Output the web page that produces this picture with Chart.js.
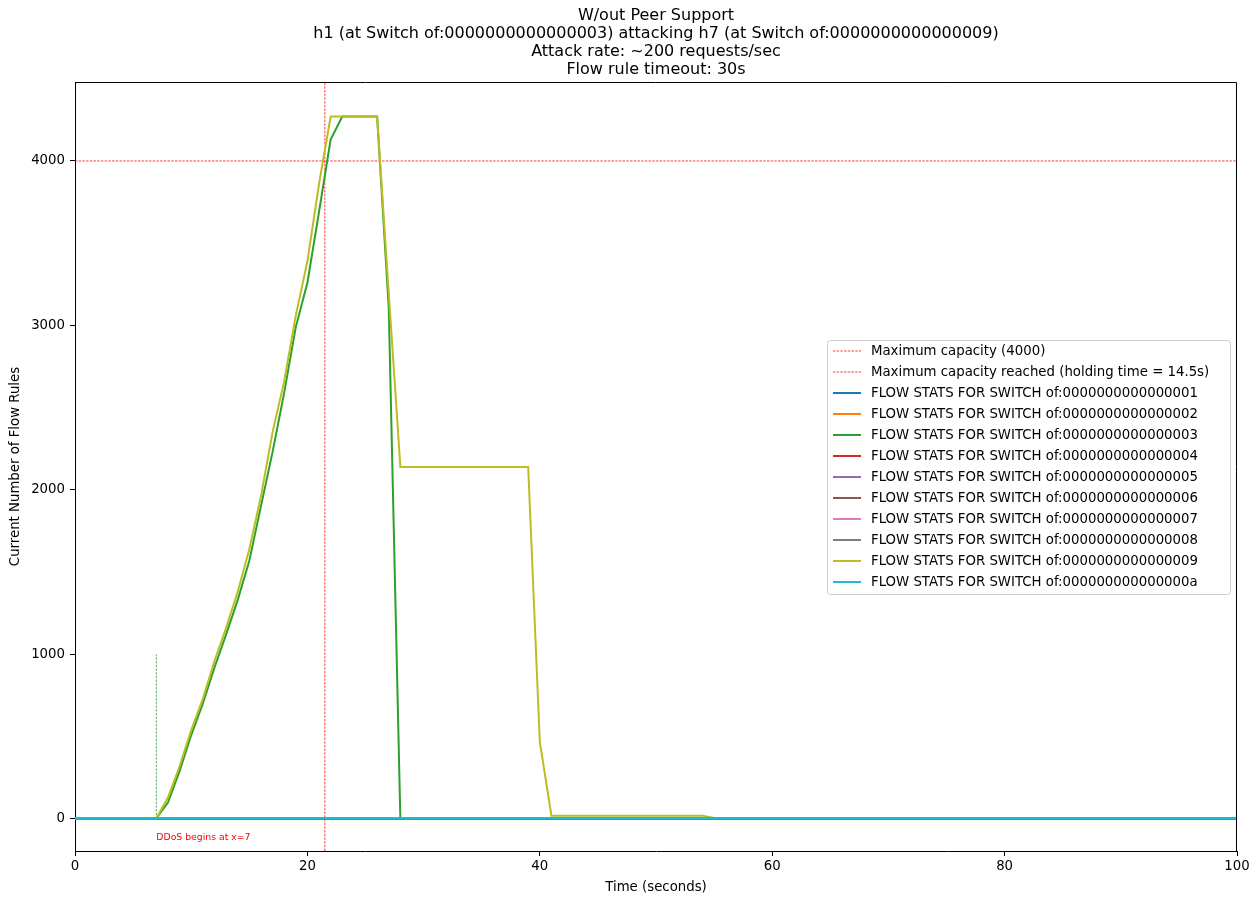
<!doctype html>
<html lang="en">
<head>
<meta charset="utf-8">
<title>W/out Peer Support</title>
<script src="https://cdn.jsdelivr.net/npm/chart.js"></script>
<style>
  body { margin: 0; background: #fff; }
</style>
</head>
<body>
<canvas id="flowChart" width="1260" height="905"></canvas>
<script>
const titleLines = [
  'W/out Peer Support',
  'h1 (at Switch of:0000000000000003) attacking h7 (at Switch of:0000000000000009)',
  'Attack rate: ~200 requests/sec',
  'Flow rule timeout: 30s'
];
const xTitle = 'Time (seconds)';
const yTitle = 'Current Number of Flow Rules';
const xTicks = [0, 20, 40, 60, 80, 100];
const yTicks = [0, 1000, 2000, 3000, 4000];

const capacity = 4000;
const capacityReachedAt = 21.5;
const ddosStart = 7;
const ddosMarkerTop = 1000;
const ddosLabel = 'DDoS begins at x=7';

const switchIds = [
  'of:0000000000000001', 'of:0000000000000002', 'of:0000000000000003',
  'of:0000000000000004', 'of:0000000000000005', 'of:0000000000000006',
  'of:0000000000000007', 'of:0000000000000008', 'of:0000000000000009',
  'of:000000000000000a'
];
const switchColors = [
  '#1f77b4', '#ff7f0e', '#2ca02c', '#d62728', '#9467bd',
  '#8c564b', '#e377c2', '#7f7f7f', '#bcbd22', '#17becf'
];

// time (s) and flow rule count, per switch
const s1Time = [0, 100];  const s1Rules = [3, 3];
const s2Time = [0, 100];  const s2Rules = [2, 2];
const s3Time = [0, 7, 8, 9, 10, 11, 12, 13, 14, 15, 16, 17, 18, 19, 20, 21, 22, 23, 26, 27, 28, 100];
const s3Rules = [4, 4, 100, 290, 510, 700, 920, 1120, 1330, 1570, 1900, 2230, 2590, 2990, 3260, 3690, 4130, 4270, 4270, 3110, 4, 4];
const s4Time = [0, 100];  const s4Rules = [5, 5];
const s5Time = [0, 100];  const s5Rules = [2, 2];
const s6Time = [0, 100];  const s6Rules = [3, 3];
const s7Time = [0, 100];  const s7Rules = [4, 4];
const s8Time = [0, 100];  const s8Rules = [2, 2];
const s9Time = [0, 7, 8, 9, 10, 11, 12, 13, 14, 15, 16, 17, 18, 19, 20, 21, 22, 26, 27, 28, 39, 40, 41, 54, 55, 100];
const s9Rules = [4, 4, 130, 320, 540, 730, 960, 1160, 1380, 1640, 1960, 2350, 2660, 3060, 3390, 3860, 4270, 4270, 3200, 2140, 2140, 470, 20, 20, 5, 5];
const saTime = [0, 100];  const saRules = [6, 6];

const switchTimes = [s1Time, s2Time, s3Time, s4Time, s5Time, s6Time, s7Time, s8Time, s9Time, saTime];
const switchRules = [s1Rules, s2Rules, s3Rules, s4Rules, s5Rules, s6Rules, s7Rules, s8Rules, s9Rules, saRules];

const FONT = 'DejaVu Sans';
const yMin = -195, yMax = 4480;

const toPoints = (xs, ys) => xs.map((x, i) => ({ x: x, y: ys[i] }));

const datasets = [
  {
    label: 'Maximum capacity (' + capacity + ')',
    data: [{ x: 0, y: capacity }, { x: 100, y: capacity }],
    borderColor: '#f01010', borderWidth: 0.8, borderDash: [2.5, 1.2],
    pointRadius: 0, order: 100
  },
  {
    label: 'Maximum capacity reached (holding time = 14.5s)',
    data: [{ x: capacityReachedAt, y: yMin }, { x: capacityReachedAt, y: yMax }],
    borderColor: '#f01010', borderWidth: 0.8, borderDash: [2.5, 1.2],
    pointRadius: 0, order: 99
  },
  {
    label: '',
    data: [{ x: ddosStart, y: 0 }, { x: ddosStart, y: ddosMarkerTop }],
    borderColor: '#2ca02c', borderWidth: 0.8, borderDash: [2.5, 1.2],
    pointRadius: 0, order: 98, hideInLegend: true
  }
];
switchIds.forEach((id, i) => {
  datasets.push({
    label: 'FLOW STATS FOR SWITCH ' + id,
    data: toPoints(switchTimes[i], switchRules[i]),
    borderColor: switchColors[i],
    borderWidth: 2,
    pointRadius: 0,
    tension: 0,
    order: 20 - i
  });
});

const extras = {
  id: 'extras',
  afterDatasetsDraw(chart) {
    const ctx = chart.ctx;
    const a = chart.chartArea;
    const xs = chart.scales.x, ys = chart.scales.y;
    ctx.save();

    // top and right spines
    ctx.strokeStyle = '#000';
    ctx.lineWidth = 1;
    ctx.beginPath();
    ctx.moveTo(a.left, a.top + 0.5);
    ctx.lineTo(a.right - 0.5, a.top + 0.5);
    ctx.lineTo(a.right - 0.5, a.bottom);
    ctx.stroke();

    // annotation
    ctx.fillStyle = '#ff0000';
    ctx.font = '9.3px "' + FONT + '"';
    ctx.textBaseline = 'middle';
    ctx.textAlign = 'left';
    ctx.fillText(ddosLabel, xs.getPixelForValue(ddosStart), ys.getPixelForValue(-116));

    // legend
    const bx = 827, by = 340, bw = 403, bh = 254;
    ctx.fillStyle = 'rgba(255,255,255,0.8)';
    ctx.strokeStyle = '#cccccc';
    ctx.beginPath();
    ctx.roundRect(bx + 0.5, by + 0.5, bw, bh, 3);
    ctx.fill();
    ctx.stroke();

    ctx.font = '13.3px "' + FONT + '"';
    let row = 0;
    chart.data.datasets.forEach(ds => {
      if (ds.hideInLegend) return;
      const y = 351 + row * 21;
      ctx.strokeStyle = ds.borderColor;
      ctx.lineWidth = ds.borderWidth;
      ctx.setLineDash(ds.borderDash || []);
      ctx.beginPath();
      ctx.moveTo(833, y);
      ctx.lineTo(861, y);
      ctx.stroke();
      ctx.setLineDash([]);
      ctx.fillStyle = '#000';
      ctx.fillText(ds.label, 871, y + 1);
      row++;
    });

    // titles
    ctx.fillStyle = '#000';
    ctx.textAlign = 'center';
    ctx.font = '16px "' + FONT + '"';
    const cx = (a.left + a.right) / 2;
    titleLines.forEach((t, i) => ctx.fillText(t, cx, 16 + i * 18));

    ctx.font = '13.3px "' + FONT + '"';
    ctx.fillText(xTitle, cx, 888);
    ctx.translate(16, (a.top + a.bottom) / 2);
    ctx.rotate(-Math.PI / 2);
    ctx.fillText(yTitle, 0, 0);
    ctx.restore();
  }
};

const tickFont = { family: FONT, size: 13.3 };

new Chart(document.getElementById('flowChart'), {
  type: 'line',
  data: { datasets: datasets },
  options: {
    responsive: false,
    animation: false,
    layout: { padding: { top: 82, right: 23, left: 0, bottom: 0 } },
    plugins: {
      legend: { display: false },
      tooltip: { enabled: false }
    },
    scales: {
      x: {
        type: 'linear',
        min: 0,
        max: 100,
        afterBuildTicks: s => { s.ticks = xTicks.map(v => ({ value: v })); },
        afterFit: s => { s.height = 54; },
        ticks: { color: '#000', font: tickFont, padding: 3, maxRotation: 0, callback: v => String(v) },
        grid: { display: true, drawOnChartArea: false, tickLength: 5, color: '#000' },
        border: { display: true, color: '#000', width: 1 }
      },
      y: {
        type: 'linear',
        min: yMin,
        max: yMax,
        afterBuildTicks: s => { s.ticks = yTicks.map(v => ({ value: v })); },
        afterFit: s => { s.width = 75; },
        ticks: { color: '#000', font: tickFont, padding: 5, callback: v => String(v) },
        grid: { display: true, drawOnChartArea: false, tickLength: 5, color: '#000' },
        border: { display: true, color: '#000', width: 1 }
      }
    }
  },
  plugins: [extras]
});
</script>
</body>
</html>
